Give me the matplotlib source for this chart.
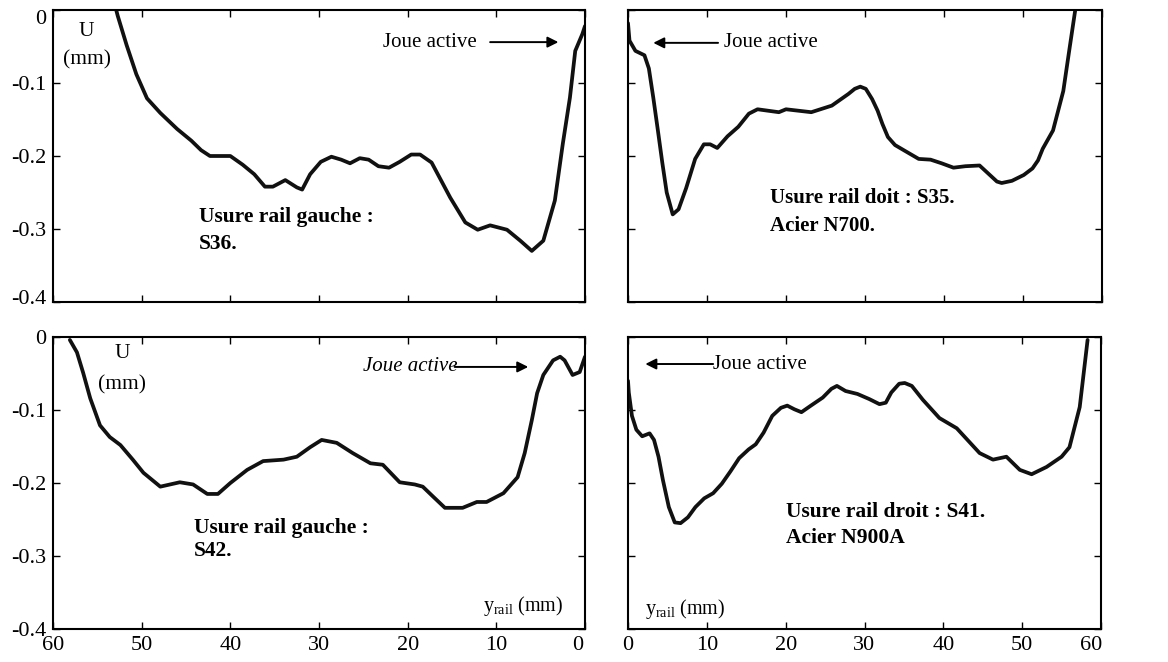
import matplotlib
matplotlib.use("Agg")
import matplotlib.pyplot as plt
import matplotlib.transforms as mtransforms

plt.rcParams['font.family'] = ['Liberation Serif', 'DejaVu Serif']
plt.rcParams['mathtext.fontset'] = 'custom'
plt.rcParams['mathtext.rm'] = 'Liberation Serif'
plt.rcParams['mathtext.it'] = 'Liberation Serif:italic'

# ---- data (y_rail in mm, U in mm) ----
s36_x = [53.3, 52.7, 51.7, 50.6, 49.4, 47.9, 46.0, 44.4, 43.3, 42.3, 40.0, 38.6, 37.3,
         36.1, 35.2, 33.8, 32.5, 31.9, 31.0, 29.8, 28.6, 27.5, 26.5, 25.4, 24.4, 23.3,
         22.1, 20.9, 19.6, 18.6, 17.3, 15.2, 13.5, 12.1, 10.7, 8.8, 7.3, 6.0, 4.7, 3.4,
         2.5, 1.7, 1.1, 0.3, 0.0]
s36_u = [0.02, -0.008, -0.048, -0.088, -0.121, -0.141, -0.163, -0.179, -0.192, -0.200,
         -0.200, -0.212, -0.225, -0.242, -0.242, -0.233, -0.243, -0.246, -0.225, -0.208,
         -0.201, -0.205, -0.210, -0.203, -0.205, -0.214, -0.216, -0.208, -0.198, -0.198,
         -0.209, -0.257, -0.291, -0.301, -0.295, -0.301, -0.316, -0.330, -0.316, -0.261,
         -0.183, -0.120, -0.056, -0.033, -0.022]

s35_x = [0.0, 0.19, 0.94, 2.08, 2.64, 3.2, 3.77, 4.34, 4.9, 5.66, 6.4, 7.36, 8.5, 9.6,
         10.4, 11.3, 12.6, 13.96, 15.3, 16.4, 19.1, 20.0, 23.2, 25.8, 27.9, 28.7, 29.4,
         30.1, 30.9, 31.6, 32.2, 32.9, 33.8, 34.9, 36.8, 38.3, 39.7, 41.2, 42.7, 44.5,
         45.6, 46.7, 47.3, 48.6, 50.1, 51.2, 51.9, 52.5, 53.8, 55.1, 55.9, 56.6, 57.1]
s35_u = [-0.018, -0.042, -0.056, -0.062, -0.080, -0.120, -0.164, -0.209, -0.250, -0.280,
         -0.273, -0.244, -0.204, -0.184, -0.184, -0.189, -0.173, -0.160, -0.142, -0.136,
         -0.140, -0.136, -0.140, -0.131, -0.115, -0.108, -0.105, -0.108, -0.122, -0.138,
         -0.156, -0.174, -0.185, -0.192, -0.204, -0.205, -0.210, -0.216, -0.214, -0.213,
         -0.224, -0.235, -0.237, -0.234, -0.226, -0.217, -0.206, -0.190, -0.165, -0.111,
         -0.052, -0.001, 0.03]

s42_x = [58.1, 57.3, 56.6, 55.8, 54.7, 53.6, 52.4, 51.0, 49.8, 47.9, 46.8, 45.7, 44.2,
         42.6, 41.4, 40.0, 38.1, 36.3, 34.0, 32.5, 31.0, 29.7, 28.0, 26.2, 24.2, 22.8,
         20.9, 19.2, 18.3, 17.1, 15.8, 13.8, 12.2, 11.1, 9.2, 7.6, 6.8, 6.0, 5.4, 4.7,
         3.6, 2.8, 2.3, 1.4, 0.6, 0.0]
s42_u = [-0.004, -0.021, -0.049, -0.084, -0.121, -0.137, -0.148, -0.168, -0.186, -0.205,
         -0.202, -0.199, -0.202, -0.215, -0.215, -0.200, -0.182, -0.170, -0.168, -0.164,
         -0.151, -0.141, -0.145, -0.159, -0.173, -0.175, -0.199, -0.202, -0.205, -0.219,
         -0.234, -0.234, -0.226, -0.226, -0.214, -0.192, -0.159, -0.114, -0.077, -0.052,
         -0.032, -0.027, -0.032, -0.052, -0.048, -0.027]

s41_x = [0.0, 0.1, 0.5, 1.06, 1.8, 2.74, 3.3, 3.87, 4.43, 5.18, 5.93, 6.67, 7.6, 8.55,
         9.67, 10.8, 11.9, 13.0, 14.1, 15.3, 16.2, 17.2, 18.3, 19.4, 20.2, 21.1, 22.0,
         23.2, 24.7, 25.8, 26.5, 27.6, 29.1, 30.6, 31.9, 32.7, 33.4, 34.4, 35.1, 36.0,
         37.4, 39.5, 41.7, 44.6, 46.3, 48.0, 49.7, 51.2, 53.1, 55.0, 56.0, 57.3, 58.3]
s41_u = [-0.060, -0.076, -0.108, -0.127, -0.136, -0.132, -0.141, -0.164, -0.196, -0.233,
         -0.254, -0.255, -0.247, -0.233, -0.221, -0.214, -0.201, -0.184, -0.166, -0.154,
         -0.147, -0.131, -0.108, -0.097, -0.094, -0.099, -0.103, -0.094, -0.083, -0.071,
         -0.067, -0.074, -0.078, -0.085, -0.092, -0.090, -0.076, -0.064, -0.063, -0.067,
         -0.086, -0.111, -0.125, -0.159, -0.168, -0.164, -0.182, -0.188, -0.178, -0.164,
         -0.151, -0.096, -0.004]

x_ticks = [0, 10, 20, 30, 40, 50, 60]
y_ticks = [0, -0.1, -0.2, -0.3, -0.4]
y_tick_labels = ['0', '-0.1', '-0.2', '-0.3', '-0.4']

FS_TICK = 16
FS = 15.5
LW = 2.7

fig = plt.figure(figsize=(11.68, 6.62), dpi=100)
W, H = 1168.0, 662.0

def add_axes(px0, py0, px1, py1):
    return fig.add_axes([px0 / W, 1 - py1 / H, (px1 - px0) / W, (py1 - py0) / H])

ax_tl = add_axes(53, 10, 585, 302)
ax_tr = add_axes(628, 10, 1102, 302)
ax_bl = add_axes(53, 337, 585, 629)
ax_br = add_axes(628, 337, 1101, 629)

def style(ax, left, bottom):
    ax.set_ylim(-0.4, 0)
    if left:
        ax.set_xlim(60, 0)
    else:
        ax.set_xlim(0, 60)
    ax.set_xticks(x_ticks)
    ax.set_yticks(y_ticks)
    ax.tick_params(direction='in', length=5, width=1.0, top=True, right=True,
                   labelsize=FS_TICK, pad=5)
    if left:
        ax.set_yticklabels(y_tick_labels)
    else:
        ax.set_yticklabels([])
    if bottom:
        ax.set_xticklabels([str(t) for t in x_ticks])
    else:
        ax.set_xticklabels([])
    for s in ax.spines.values():
        s.set_linewidth(1.5)

style(ax_tl, True, False)
style(ax_tr, False, False)
style(ax_bl, True, True)
style(ax_br, False, True)

def shift_label(tick, dx_px, dy_px):
    off = mtransforms.ScaledTranslation(dx_px / 100.0, dy_px / 100.0, fig.dpi_scale_trans)
    tick.label1.set_transform(tick.label1.get_transform() + off)

# edge tick labels nudged inward like the original
shift_label(ax_tl.yaxis.get_major_ticks()[0], 0, -7)
shift_label(ax_tl.yaxis.get_major_ticks()[4], 0, 5)
shift_label(ax_bl.xaxis.get_major_ticks()[0], -7, 0)
shift_label(ax_br.xaxis.get_major_ticks()[6], -10, 0)

for ax, xs, us in [(ax_tl, s36_x, s36_u), (ax_tr, s35_x, s35_u),
                   (ax_bl, s42_x, s42_u), (ax_br, s41_x, s41_u)]:
    ax.plot(xs, us, color='#111111', lw=LW, solid_joinstyle='round', solid_capstyle='round')

arrow_kw = dict(arrowstyle='-|>', color='black', lw=1.4, mutation_scale=16,
                shrinkA=0, shrinkB=0)

# top-left
ax_tl.text(56.2, -0.029, 'U', ha='center', va='center', fontsize=FS)
ax_tl.text(56.2, -0.068, '(mm)', ha='center', va='center', fontsize=FS)
ax_tl.text(22.8, -0.044, 'Joue active', ha='left', va='center', fontsize=FS - 0.5)
ax_tl.annotate('', xy=(3.0, -0.044), xytext=(10.7, -0.044), arrowprops=arrow_kw)
ax_tl.text(43.5, -0.2836, 'Usure rail gauche :', ha='left', va='center',
           fontsize=FS, fontweight='bold')
ax_tl.text(43.5, -0.320, 'S36.', ha='left', va='center', fontsize=FS, fontweight='bold')

# top-right
ax_tr.annotate('', xy=(3.2, -0.045), xytext=(11.4, -0.045), arrowprops=arrow_kw)
ax_tr.text(12.1, -0.045, 'Joue active', ha='left', va='center', fontsize=FS - 0.5)
ax_tr.text(18.0, -0.258, 'Usure rail doit : S35.', ha='left', va='center',
           fontsize=FS - 0.5, fontweight='bold')
ax_tr.text(18.0, -0.296, 'Acier N700.', ha='left', va='center',
           fontsize=FS - 0.5, fontweight='bold')

# bottom-left
ax_bl.text(52.2, -0.022, 'U', ha='center', va='center', fontsize=FS)
ax_bl.text(52.2, -0.066, '(mm)', ha='center', va='center', fontsize=FS)
ax_bl.text(25.0, -0.041, 'Joue active', ha='left', va='center', fontsize=FS - 0.5,
           style='italic')
ax_bl.annotate('', xy=(6.4, -0.041), xytext=(14.7, -0.041), arrowprops=arrow_kw)
ax_bl.text(44.1, -0.262, 'Usure rail gauche :', ha='left', va='center',
           fontsize=FS, fontweight='bold')
ax_bl.text(44.1, -0.293, 'S42.', ha='left', va='center', fontsize=FS, fontweight='bold')
ax_bl.text(11.5, -0.369, r'$\mathrm{y_{rail}}$ (mm)', ha='left', va='center', fontsize=FS - 1)

# bottom-right
ax_br.annotate('', xy=(2.2, -0.037), xytext=(10.8, -0.037), arrowprops=arrow_kw)
ax_br.text(10.8, -0.037, 'Joue active', ha='left', va='center', fontsize=FS - 0.5)
ax_br.text(20.1, -0.240, 'Usure rail droit : S41.', ha='left', va='center',
           fontsize=FS, fontweight='bold')
ax_br.text(20.1, -0.276, 'Acier N900A', ha='left', va='center',
           fontsize=FS, fontweight='bold')
ax_br.text(2.2, -0.372, r'$\mathrm{y_{rail}}$ (mm)', ha='left', va='center', fontsize=FS - 1)

fig.savefig('out.png', dpi=100)
